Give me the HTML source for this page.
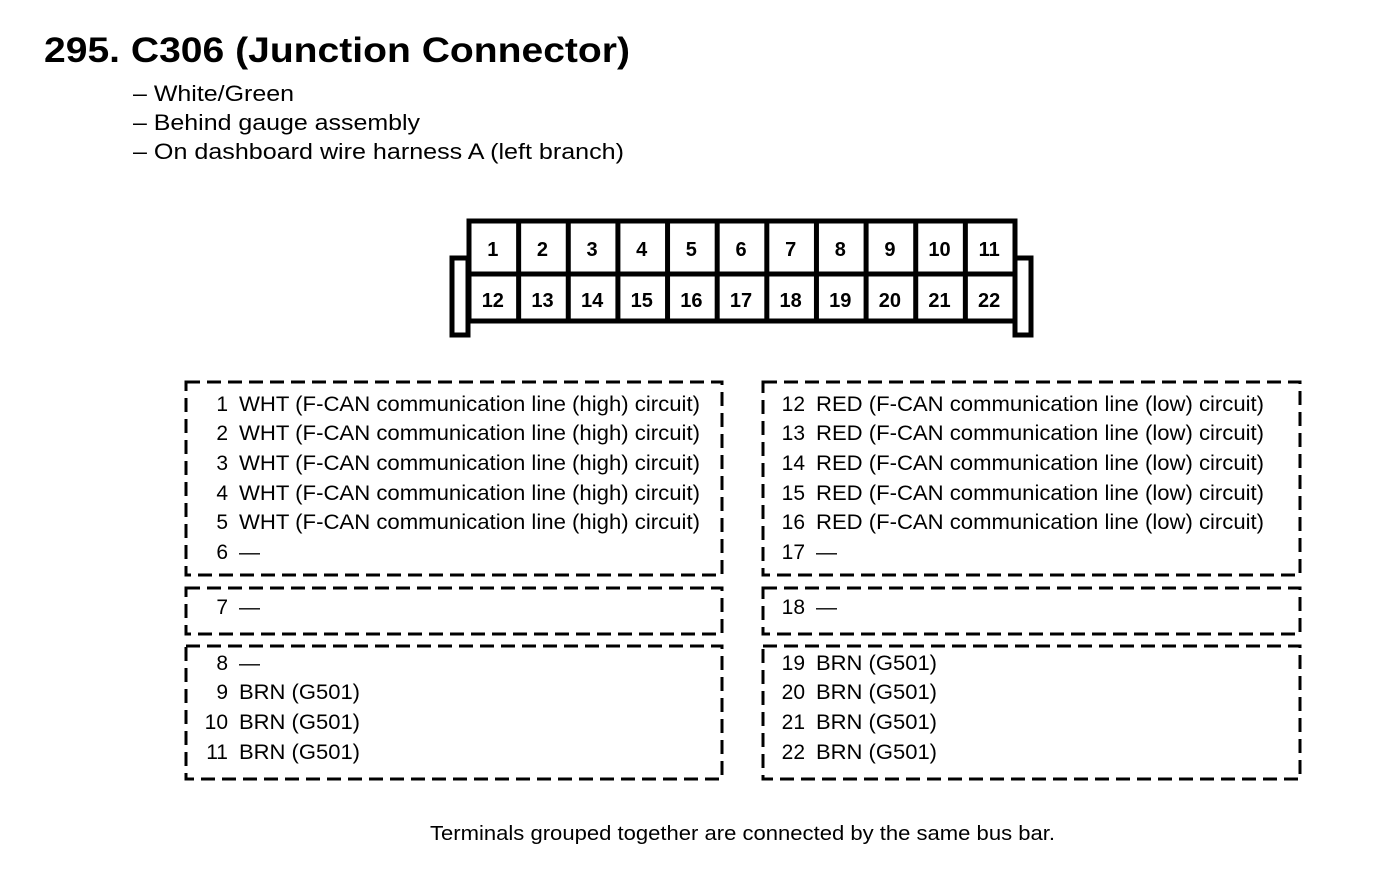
<!DOCTYPE html>
<html><head><meta charset="utf-8"><style>
body{margin:0;background:#fff;width:1376px;height:890px;overflow:hidden}
svg{display:block}
text{font-family:"Liberation Sans",Arial,sans-serif;fill:#000}
</style></head><body>
<svg width="1376" height="890" viewBox="0 0 1376 890">
<text x="44" y="62" font-size="35" font-weight="bold" textLength="586" lengthAdjust="spacingAndGlyphs">295.  C306 (Junction Connector)</text>
<g font-size="22" lengthAdjust="spacingAndGlyphs">
<text x="133" y="101" textLength="161" lengthAdjust="spacingAndGlyphs">– White/Green</text>
<text x="133" y="130" textLength="287" lengthAdjust="spacingAndGlyphs">– Behind gauge assembly</text>
<text x="133" y="159" textLength="491" lengthAdjust="spacingAndGlyphs">– On dashboard wire harness A (left branch)</text>
</g>
<g fill="none" stroke="#000" stroke-width="5">
<rect x="452" y="258" width="16" height="77"/>
<rect x="1015" y="258" width="16" height="77"/>
<rect x="469" y="221" width="546" height="100" fill="#fff"/>
<line x1="469" y1="274" x2="1015" y2="274"/>
</g>
<g stroke="#000" stroke-width="5" id="divs"></g>
<g font-size="20" font-weight="bold" text-anchor="middle" id="nums"></g>
<g fill="none" stroke="#000" stroke-width="3" stroke-dasharray="14 7">
<rect x="186" y="382" width="536" height="193"/>
<rect x="186" y="588" width="536" height="46"/>
<rect x="186" y="646" width="536" height="133"/>
<rect x="763" y="382" width="537" height="193"/>
<rect x="763" y="588" width="537" height="46"/>
<rect x="763" y="646" width="537" height="133"/>
</g>
<g font-size="21">
<g text-anchor="end">
<text x="228" y="411">1</text><text x="228" y="440">2</text><text x="228" y="470">3</text><text x="228" y="500">4</text><text x="228" y="529">5</text><text x="228" y="559">6</text>
<text x="228" y="614">7</text>
<text x="228" y="670">8</text><text x="228" y="699">9</text><text x="228" y="729">10</text><text x="228" y="759">11</text>
<text x="805" y="411">12</text><text x="805" y="440">13</text><text x="805" y="470">14</text><text x="805" y="500">15</text><text x="805" y="529">16</text><text x="805" y="559">17</text>
<text x="805" y="614">18</text>
<text x="805" y="670">19</text><text x="805" y="699">20</text><text x="805" y="729">21</text><text x="805" y="759">22</text>
</g>
<g id="L">
<text x="239" y="411">WHT (F-CAN communication line (high) circuit)</text>
<text x="239" y="440">WHT (F-CAN communication line (high) circuit)</text>
<text x="239" y="470">WHT (F-CAN communication line (high) circuit)</text>
<text x="239" y="500">WHT (F-CAN communication line (high) circuit)</text>
<text x="239" y="529">WHT (F-CAN communication line (high) circuit)</text>
</g>
<g id="R">
<text x="816" y="411">RED (F-CAN communication line (low) circuit)</text>
<text x="816" y="440">RED (F-CAN communication line (low) circuit)</text>
<text x="816" y="470">RED (F-CAN communication line (low) circuit)</text>
<text x="816" y="500">RED (F-CAN communication line (low) circuit)</text>
<text x="816" y="529">RED (F-CAN communication line (low) circuit)</text>
</g>
<text x="239" y="559">—</text>
<text x="239" y="614">—</text>
<text x="239" y="670">—</text>
<g id="B">
<text x="239" y="699">BRN (G501)</text><text x="239" y="729">BRN (G501)</text><text x="239" y="759">BRN (G501)</text>
<text x="816" y="670">BRN (G501)</text><text x="816" y="699">BRN (G501)</text><text x="816" y="729">BRN (G501)</text><text x="816" y="759">BRN (G501)</text>
</g>
<text x="816" y="559">—</text>
<text x="816" y="614">—</text>
</g>
<text x="430" y="840" font-size="20" textLength="625" lengthAdjust="spacingAndGlyphs">Terminals grouped together are connected by the same bus bar.</text>
</svg>
<script>
var ns="http://www.w3.org/2000/svg",d=document.getElementById("divs"),n=document.getElementById("nums");
var x0=469,w=546/11;
for(var i=1;i<11;i++){var l=document.createElementNS(ns,"line");var x=x0+w*i;l.setAttribute("x1",x);l.setAttribute("x2",x);l.setAttribute("y1",221);l.setAttribute("y2",321);d.appendChild(l);}
for(var i=0;i<22;i++){var t=document.createElementNS(ns,"text");var c=i%11;t.setAttribute("x",x0+w*c+w/2-1);t.setAttribute("y",i<11?256:307);t.textContent=i+1;n.appendChild(t);}
function fit(id,len){var ts=document.getElementById(id).getElementsByTagName("text");for(var i=0;i<ts.length;i++){ts[i].setAttribute("textLength",len);ts[i].setAttribute("lengthAdjust","spacingAndGlyphs");}}
fit("L",461);fit("R",448);fit("B",121);
</script>
</body></html>
